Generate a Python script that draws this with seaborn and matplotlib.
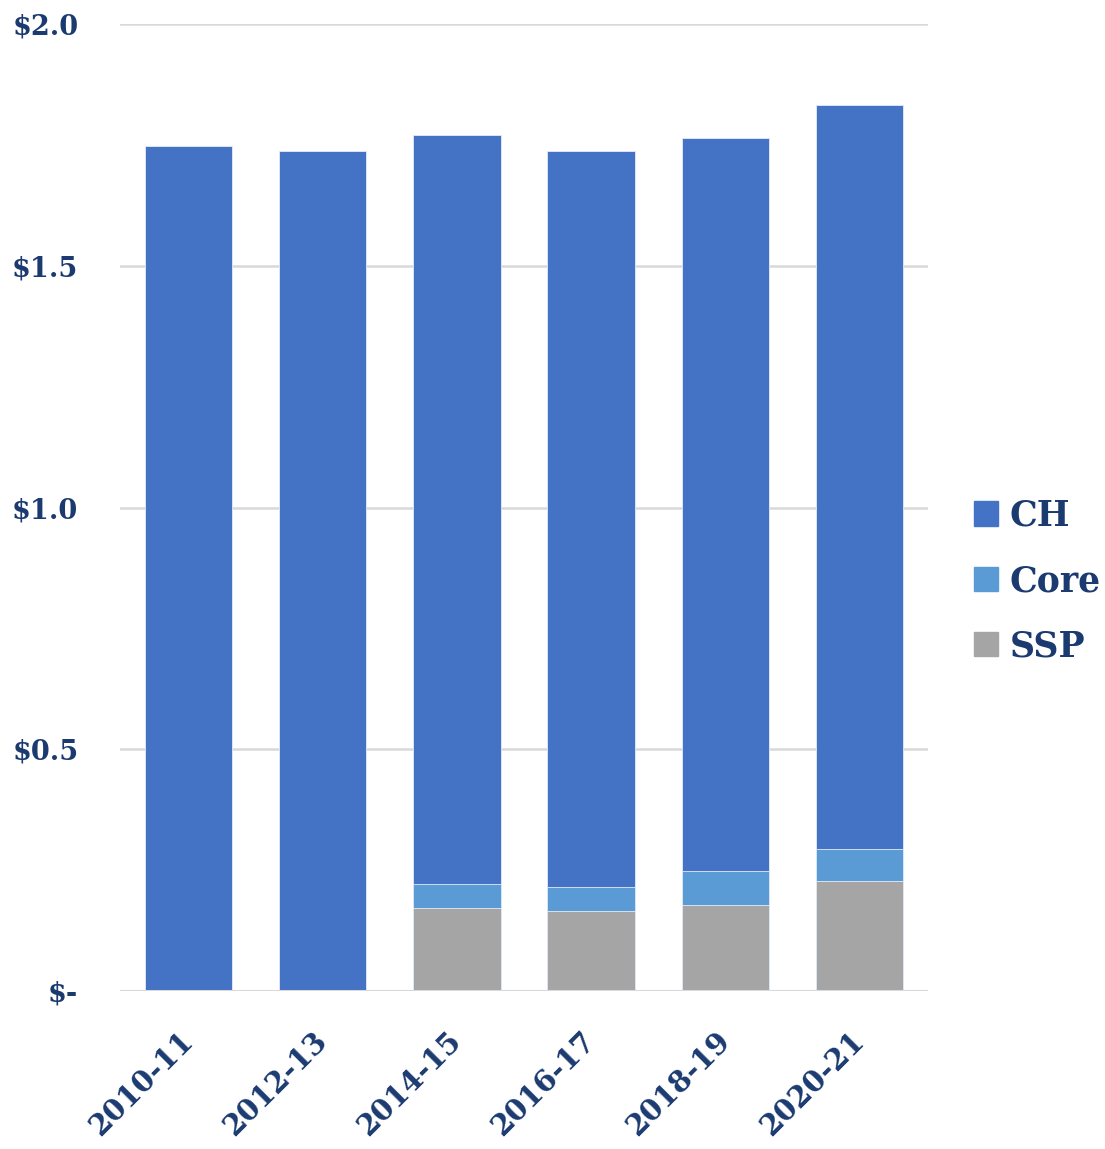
import numpy as np
import pandas as pd
import matplotlib
matplotlib.use('Agg')
import matplotlib.pyplot as plt
import seaborn as sns
from matplotlib.patches import Patch

# Values (billions of dollars)
years = ['2010-11', '2012-13', '2014-15', '2016-17', '2018-19', '2020-21']
ssp = [0.0, 0.0, 0.172, 0.165, 0.178, 0.228]
core = [0.0, 0.0, 0.049, 0.050, 0.070, 0.066]
ch = [1.748, 1.737, 1.549, 1.522, 1.516, 1.538]

ytick_vals = [0.0, 0.5, 1.0, 1.5, 2.0]
ytick_labels = ['$-', '$0.5', '$1.0', '$1.5', '$2.0']

colors = {'CH': '#4472C4', 'Core': '#5B9BD5', 'SSP': '#A5A5A5'}
text_color = '#1B3A70'

sns.set_style('white')
plt.rcParams['font.family'] = ['DejaVu Serif']
plt.rcParams['font.weight'] = 'bold'

df = pd.DataFrame({'year': years, 'SSP': ssp, 'Core': core, 'CH': ch})
df['ssp_top'] = df['SSP']
df['core_top'] = df['SSP'] + df['Core']
df['ch_top'] = df['core_top'] + df['CH']

fig = plt.figure(figsize=(11.05, 11.49), dpi=100)
ax = fig.add_axes([0.1086, 0.1375, 0.7312, 0.8416])

# stacked bars drawn as cumulative totals, tallest first
bar_kw = dict(saturation=1, width=0.65, ax=ax, zorder=3,
              edgecolor='#E4ECF7', linewidth=0.6)
sns.barplot(data=df, x='year', y='ch_top', color=colors['CH'], **bar_kw)
sns.barplot(data=df, x='year', y='core_top', color=colors['Core'], **bar_kw)
sns.barplot(data=df, x='year', y='ssp_top', color=colors['SSP'], **bar_kw)

ax.set_ylim(0, 2.0)
ax.set_xlim(-0.51, 5.51)
ax.set_yticks(ytick_vals)
ax.set_yticklabels(ytick_labels)
ax.set_xlabel('')
ax.set_ylabel('')

for s in ax.spines.values():
    s.set_visible(False)
ax.yaxis.grid(True, color='#D9D9D9', linewidth=1.8, zorder=0)
ax.set_axisbelow(True)
ax.axhline(0, color='#D9D9D9', linewidth=2.2, zorder=4)

ax.tick_params(axis='y', length=0, pad=30, labelsize=19.5, labelcolor=text_color)
ax.tick_params(axis='x', length=0, pad=33, labelsize=21, labelcolor=text_color)
for lbl in ax.get_xticklabels():
    lbl.set_rotation(45)
    lbl.set_ha('right')
    lbl.set_va('center')
    lbl.set_rotation_mode('anchor')

handles = [Patch(color=colors[k], label=k) for k in ['CH', 'Core', 'SSP']]
fig.legend(handles=handles, loc='center left', bbox_to_anchor=(0.881, 0.4943),
           frameon=False, borderpad=0, borderaxespad=0, handlelength=0.7,
           handleheight=0.7, handletextpad=0.35, labelspacing=0.9,
           prop={'size': 25, 'weight': 'bold'}, labelcolor=text_color)

fig.savefig('out.png', dpi=100)
